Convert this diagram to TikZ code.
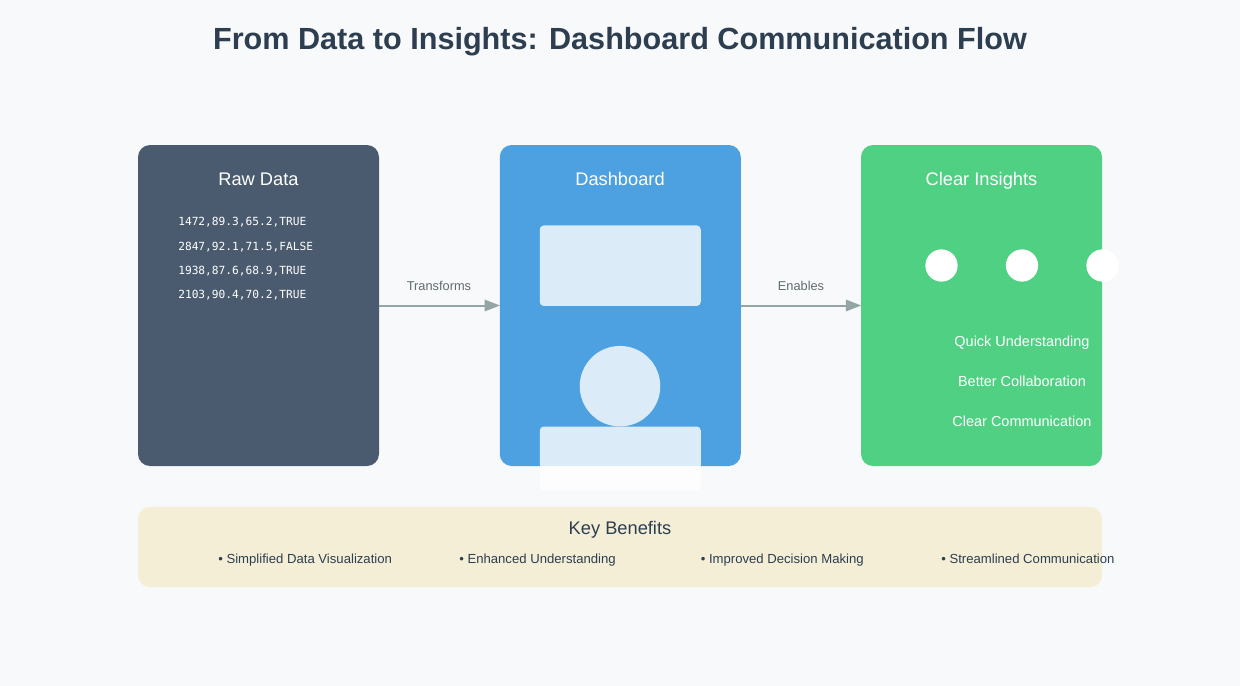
\documentclass[tikz,border=0pt]{standalone}
\usepackage{fontspec}
\setmainfont{Liberation Sans}
\newfontfamily\titlefont{Liberation Sans}
\newfontfamily\codefont{DejaVu Sans Mono}
\usetikzlibrary{arrows.meta}
\definecolor{bgc}{HTML}{F8F9FB}
\definecolor{rawc}{HTML}{4A5B6F}
\definecolor{dashc}{HTML}{4DA1E0}
\definecolor{insc}{HTML}{4FD082}
\definecolor{benc}{HTML}{F5EED6}
\definecolor{inkc}{HTML}{2C3E50}
\definecolor{arrc}{HTML}{95A5A6}
\definecolor{labc}{HTML}{5F6B6D}
\tikzset{
  x=0.75pt,y=-0.75pt,
  panel/.style={draw=none,rounded corners=9pt,inner sep=0pt,minimum width=180.75pt,minimum height=240.75pt},
  txt/.style={inner sep=0pt,anchor=base},
  head/.style={txt,text=white,font=\fontsize{13.7pt}{16pt}\selectfont},
  code/.style={txt,anchor=base west,text=white,font=\codefont\fontsize{8.4pt}{10pt}\selectfont},
  item/.style={txt,text=white,font=\fontsize{10.85pt}{12pt}\selectfont},
  flowlab/.style={txt,text=labc,font=\fontsize{9.6pt}{11pt}\selectfont},
  ben/.style={txt,anchor=base west,text=inkc,font=\fontsize{9.85pt}{11pt}\selectfont},
  flow/.style={draw=arrc,line width=1.5pt,-{Triangle[length=11.5pt,width=8.5pt]},shorten >=-0.4pt},
  tile/.style={draw=none,fill=white,fill opacity=.8,rounded corners=3pt,inner sep=0pt},
}
\begin{document}
\begin{tikzpicture}
\useasboundingbox (0,0) rectangle (1240,686);
\fill[bgc] (0,0) rectangle (1240,686);
\node[txt,text=inkc,font=\titlefont\bfseries\fontsize{22.95pt}{26pt}\selectfont] (title) at (620,49) {From Data to Insights: Dashboard Communication Flow};

\node[panel,fill=rawc] (raw) at (258.5,305.5) {};
\node[panel,fill=dashc] (dash) at (620.25,305.5) {};
\node[panel,fill=insc] (ins) at (981.5,305.5) {};

\node[head] (rawh) at (258.5,185) {Raw Data};
\node[code] (c1) at (178,225) {1472,89.3,65.2,TRUE};
\node[code] (c2) at (178,250) {2847,92.1,71.5,FALSE};
\node[code] (c3) at (178,274) {1938,87.6,68.9,TRUE};
\node[code] (c4) at (178,298) {2103,90.4,70.2,TRUE};

\node[head] (dashh) at (620,185) {Dashboard};
\node[tile,minimum width=120.75pt,minimum height=60.4pt] (t1) at (620.25,265.7) {};
\node[circle,fill=white,fill opacity=.8,draw=none,inner sep=0pt,minimum size=60.4pt] (t2) at (620,386.2) {};
\node[tile,minimum width=120.75pt,minimum height=48pt] (t3) at (620.25,458.5) {};

\node[head] (insh) at (981.5,185) {Clear Insights};
\node[circle,fill=white,draw=none,inner sep=0pt,minimum size=24.2pt] (d1) at (941.5,265.5) {};
\node[circle,fill=white,draw=none,inner sep=0pt,minimum size=24.2pt] (d2) at (1022,265.5) {};
\node[circle,fill=white,draw=none,inner sep=0pt,minimum size=24.2pt] (d3) at (1102.5,265.5) {};
\node[item] (i1) at (1022,346) {Quick Understanding};
\node[item] (i2) at (1022,386) {Better Collaboration};
\node[item] (i3) at (1022,426) {Clear Communication};

\draw[flow] (raw.east) -- (dash.west);
\draw[flow] (dash.east) -- (ins.west);
\node[flowlab] (l1) at (439,290) {Transforms};
\node[flowlab] (l2) at (801,290) {Enables};

\node[panel,fill=benc,minimum height=60.2pt,minimum width=723pt] (ben) at (620,547) {};
\node[txt,text=inkc,font=\fontsize{13.7pt}{16pt}\selectfont] (benh) at (620,534.5) {Key Benefits};
\node[ben] (b1) at (218,563) {• Simplified Data Visualization};
\node[ben] (b2) at (459,563) {• Enhanced Understanding};
\node[ben] (b3) at (700.5,563) {• Improved Decision Making};
\node[ben] (b4) at (941,563) {• Streamlined Communication};
\end{tikzpicture}
\end{document}
